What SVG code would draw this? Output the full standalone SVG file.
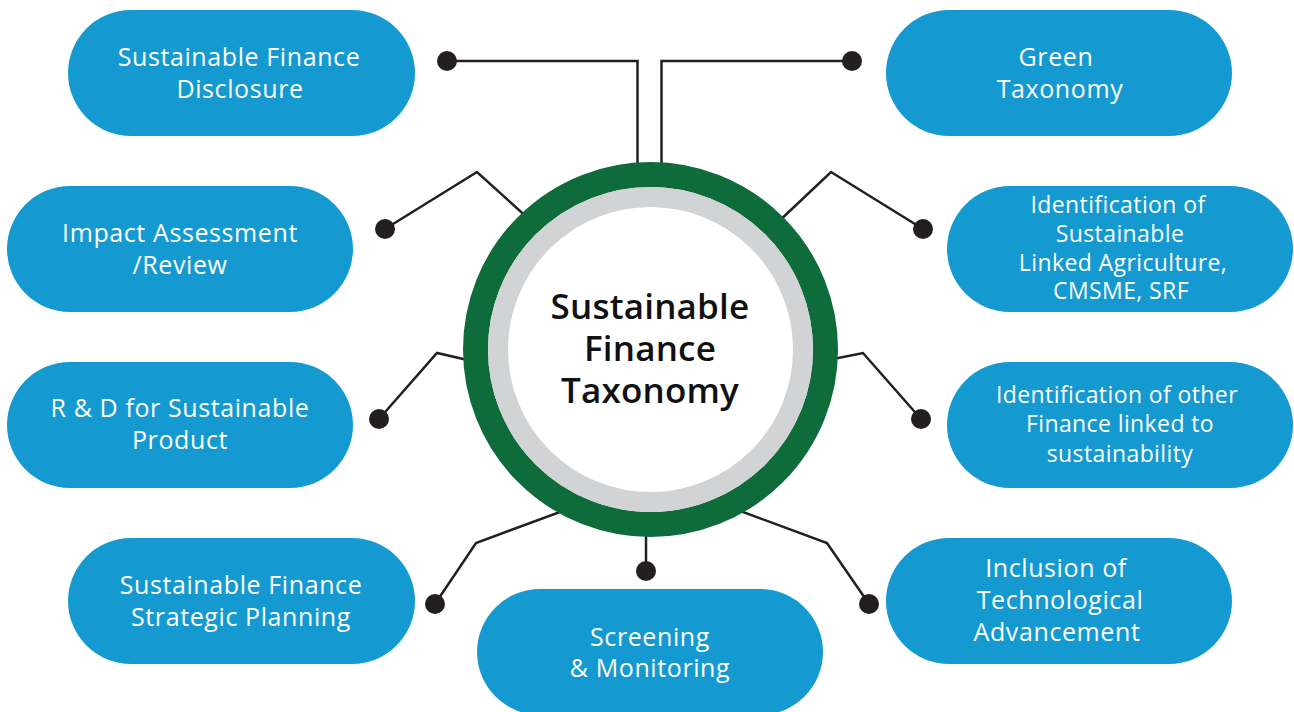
<svg xmlns="http://www.w3.org/2000/svg" width="1294" height="712" viewBox="0 0 1294 712">
<style>
.pill{fill:#1499D1}
.pt{font-family:"Open Sans","Liberation Sans",sans-serif;font-size:25px;letter-spacing:0.6px;fill:#ffffff;text-anchor:middle}
.ps{font-size:23px;letter-spacing:0.4px}
.ct{font-family:"Open Sans","Liberation Sans",sans-serif;font-size:35px;font-weight:600;letter-spacing:0.2px;fill:#111111;text-anchor:middle}
.conn{fill:none;stroke:#231F20;stroke-width:2.5;stroke-linejoin:miter}
.dot{fill:#231F20}
</style>
<rect width="1294" height="712" fill="#ffffff"/>
<g id="connectors">
<path class="conn" d="M447,61 H637.5 V180"/>
<path class="conn" d="M852,61 H661.5 V180"/>
<path class="conn" d="M385,229 L477,172 L530,220"/>
<path class="conn" d="M923,229 L831,172 L776,224"/>
<path class="conn" d="M379,419 L437,353 L472,361"/>
<path class="conn" d="M921,419 L863,353 L828,360"/>
<path class="conn" d="M435,604 L476,543 L568,509"/>
<path class="conn" d="M869,604 L827,543 L735,509"/>
<path class="conn" d="M646,525 V571"/>
<circle class="dot" cx="447" cy="61" r="10"/>
<circle class="dot" cx="852" cy="61" r="10"/>
<circle class="dot" cx="385" cy="229" r="10"/>
<circle class="dot" cx="923" cy="229" r="10"/>
<circle class="dot" cx="379" cy="419" r="10"/>
<circle class="dot" cx="921" cy="419" r="10"/>
<circle class="dot" cx="435" cy="604" r="10"/>
<circle class="dot" cx="869" cy="604" r="10"/>
<circle class="dot" cx="646" cy="571" r="10"/>
</g>
<g id="center">
<circle cx="650.5" cy="349.5" r="175" fill="#ffffff" stroke="#0E6B3A" stroke-width="25"/>
<circle cx="650.5" cy="349.5" r="152.5" fill="#ffffff" stroke="#D1D3D4" stroke-width="20"/>
<text class="ct" x="650" y="319">Sustainable</text>
<text class="ct" x="650" y="361">Finance</text>
<text class="ct" x="650" y="403">Taxonomy</text>
</g>
<g id="n-disclosure">
<rect class="pill" x="68" y="10" width="347" height="126" rx="63"/>
<text class="pt" x="239" y="66">Sustainable Finance</text>
<text class="pt" x="240" y="98">Disclosure</text>
</g>
<g id="n-impact">
<rect class="pill" x="7" y="186" width="346" height="126" rx="63"/>
<text class="pt" x="180" y="242">Impact Assessment</text>
<text class="pt" x="180" y="274">/Review</text>
</g>
<g id="n-rnd">
<rect class="pill" x="7" y="362" width="346" height="126" rx="63"/>
<text class="pt" x="180" y="417">R &amp; D for Sustainable</text>
<text class="pt" x="180" y="449">Product</text>
</g>
<g id="n-strategic">
<rect class="pill" x="68" y="538" width="347" height="126" rx="63"/>
<text class="pt" x="241" y="594">Sustainable Finance</text>
<text class="pt" x="241" y="626">Strategic Planning</text>
</g>
<g id="n-screening">
<rect class="pill" x="477" y="589" width="346" height="126" rx="63"/>
<text class="pt" x="650" y="646">Screening</text>
<text class="pt" x="650" y="677">&amp; Monitoring</text>
</g>
<g id="n-green">
<rect class="pill" x="886" y="10" width="346" height="126" rx="63"/>
<text class="pt" x="1056" y="66">Green</text>
<text class="pt" x="1060" y="98">Taxonomy</text>
</g>
<g id="n-ident-sust">
<rect class="pill" x="947" y="186" width="346" height="126" rx="63"/>
<text class="pt ps" x="1118" y="213">Identification of</text>
<text class="pt ps" x="1120" y="242">Sustainable</text>
<text class="pt ps" x="1123" y="271">Linked Agriculture,</text>
<text class="pt ps" x="1121" y="299">CMSME, SRF</text>
</g>
<g id="n-ident-other">
<rect class="pill" x="947" y="362" width="346" height="126" rx="63"/>
<text class="pt ps" x="1117" y="403">Identification of other</text>
<text class="pt ps" x="1120" y="432">Finance linked to</text>
<text class="pt ps" x="1120" y="462">sustainability</text>
</g>
<g id="n-inclusion">
<rect class="pill" x="886" y="538" width="346" height="126" rx="63"/>
<text class="pt" x="1056" y="577">Inclusion of</text>
<text class="pt" x="1060" y="609">Technological</text>
<text class="pt" x="1057" y="641">Advancement</text>
</g>
</svg>
